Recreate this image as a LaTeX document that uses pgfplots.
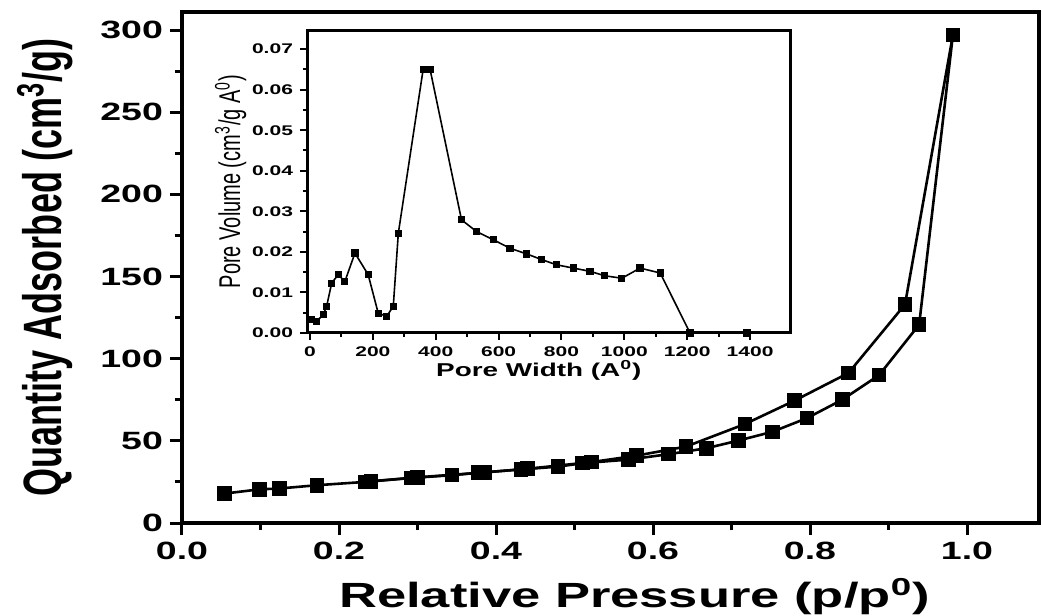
\documentclass[border=0pt]{standalone}
\usepackage{fontspec}
\setmainfont{Liberation Sans}
\newfontfamily\wide[FakeStretch=1.5]{Liberation Sans}
\newfontfamily\narrow[FakeStretch=0.667]{Liberation Sans}
\usepackage{pgfplots}
\pgfplotsset{compat=1.18}

% adsorption / desorption branches
\pgfplotstableread{
p q
0.054 17.9
0.099 20.5
0.124 21.0
0.172 23.0
0.233 25.0
0.292 27.4
0.344 29.1
0.378 30.6
0.432 32.6
0.479 34.3
0.510 36.4
0.569 38.6
0.620 41.9
0.668 45.5
0.709 50.2
0.752 55.5
0.796 63.8
0.841 75.0
0.888 90.0
0.939 120.7
0.982 297
}\ads
\pgfplotstableread{
p q
0.982 297
0.921 133
0.849 91.3
0.780 74.4
0.717 60.2
0.642 46.5
0.579 41.0
0.522 37.1
0.440 33.0
0.386 30.8
0.300 27.8
0.241 25.4
}\des
\pgfplotstableread{
w v
5 0.0033
21 0.0029
42 0.0045
53 0.0066
69 0.0123
90 0.0144
111 0.0127
143 0.0197
185 0.0144
217 0.0049
244 0.0041
265 0.0066
281 0.0246
360 0.065
382 0.065
482 0.0279
530 0.0250
583 0.0230
636 0.0209
689 0.0195
737 0.0181
785 0.0168
838 0.0160
891 0.0152
938 0.0141
992 0.0135
1050 0.0160
1114 0.0148
1209 0.0000
1390 0.0000
}\psd

\begin{document}
\begin{tikzpicture}
% page size: 1042 x 615 px at 0.5pt per px, main axis corner at origin
\useasboundingbox (-91pt,-46pt) rectangle (430pt,261.5pt);
\begin{axis}[
  scale only axis,
  width=428.5pt, height=255.5pt,
  xmin=0, xmax=1.0917, ymin=0, ymax=311,
  xtick={0,0.2,0.4,0.6,0.8,1.0},
  ytick={0,50,100,150,200,250,300},
  minor x tick num=1, minor y tick num=1,
  tick pos=left, tick align=outside,
  major tick length=6pt, minor tick length=3.5pt,
  tick style={line width=1.5pt, black},
  axis line style={line width=2pt},
  /pgf/number format/assume math mode=true,
  ticklabel style={font=\wide\bfseries\fontsize{12.5}{14}\selectfont},
  xticklabel style={/pgf/number format/.cd, fixed, fixed zerofill, precision=1},
  xlabel={Relative Pressure (p/p\textsuperscript{0})},
  xlabel style={font=\wide\bfseries\fontsize{17.5}{20}\selectfont,
    at={(axis description cs:0.528,-0.166)}, anchor=base},
  ylabel={Quantity Adsorbed (cm\textsuperscript{3}/g)},
  ylabel style={font=\narrow\bfseries\fontsize{27}{30}\selectfont,
    at={(axis description cs:-0.16,0.5)}, anchor=center},
]
\addplot[black, line width=1.3pt, mark=square*, mark size=3pt] table[x=p, y=q] {\ads};
\addplot[black, line width=1.3pt, mark=square*, mark size=3pt] table[x=p, y=q] {\des};
\end{axis}

% inset: pore size distribution
\begin{axis}[
  at={(62.5pt,95pt)}, anchor=south west,
  scale only axis,
  width=241.5pt, height=151.5pt,
  xmin=-9.5, xmax=1527, ymin=0, ymax=0.0747,
  xtick={0,200,400,600,800,1000,1200,1400},
  ytick={0,0.01,0.02,0.03,0.04,0.05,0.06,0.07},
  scaled y ticks=false,
  minor x tick num=1, minor y tick num=1,
  tick pos=left, tick align=outside,
  major tick length=3.5pt, minor tick length=2pt,
  tick style={line width=1pt, black},
  axis line style={line width=1.5pt},
  axis background/.style={fill=white},
  /pgf/number format/assume math mode=true,
  /pgf/number format/1000 sep={},
  ticklabel style={font=\wide\bfseries\fontsize{7}{8}\selectfont},
  yticklabel style={/pgf/number format/.cd, fixed, fixed zerofill, precision=2},
  xlabel={Pore Width (A\textsuperscript{0})},
  xlabel style={font=\wide\bfseries\fontsize{9.3}{11}\selectfont,
    at={(axis description cs:0.48,-0.145)}, anchor=base},
  ylabel={Pore Volume (cm\textsuperscript{3}/g A\textsuperscript{0})},
  ylabel style={font=\narrow\fontsize{15}{17}\selectfont,
    at={(axis description cs:-0.158,0.5)}, anchor=center},
]
\addplot[black, line width=0.8pt, mark=square*, mark size=1.4pt] table[x=w, y=v] {\psd};
\end{axis}
\end{tikzpicture}
\end{document}
